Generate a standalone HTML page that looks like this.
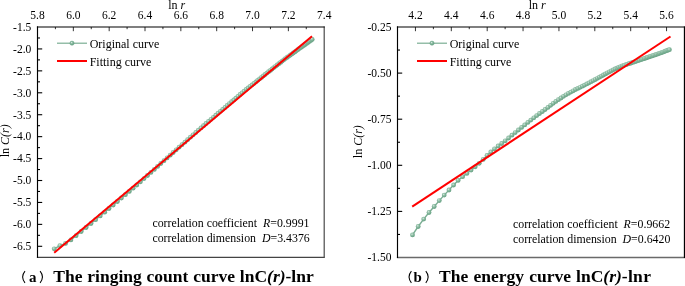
<!DOCTYPE html>
<html><head><meta charset="utf-8"><title>chart</title>
<style>
html,body{margin:0;padding:0;background:#fff;}
body{width:685px;height:286px;overflow:hidden;font-family:"Liberation Serif",serif;}
svg{display:block;will-change:transform;font-family:"Liberation Serif",serif;}
</style></head><body>
<svg width="685" height="286" viewBox="0 0 685 286">
<defs>
<radialGradient id="mk" cx="0.4" cy="0.35" r="0.65">
<stop offset="0" stop-color="#dcece4"/><stop offset="0.3" stop-color="#9cc6b0"/><stop offset="0.6" stop-color="#7cb195"/><stop offset="1" stop-color="#67a184"/>
</radialGradient>
</defs>
<rect width="685" height="286" fill="#fff"/>
<path d="M54.2,248.8 L59.9,245.6 L65.5,243.4 L70.9,239.9 L76.1,235.7 L81.2,231.5 L86.1,227.5 L91.0,223.5 L95.6,219.7 L100.2,215.9 L104.7,212.2 L109.0,208.5 L113.2,205.0 L117.4,201.5 L121.4,198.0 L125.4,194.7 L129.3,191.4 L133.1,188.2 L136.8,185.0 L140.4,181.8 L144.0,178.6 L147.5,175.5 L150.9,172.4 L154.3,169.4 L157.6,166.4 L160.8,163.5 L164.0,160.7 L167.1,157.9 L170.2,155.2 L173.2,152.5 L176.2,149.8 L179.1,147.2 L182.0,144.7 L184.9,142.2 L187.6,139.7 L190.4,137.2 L193.1,134.8 L195.8,132.5 L198.4,130.1 L201.0,127.9 L203.5,125.7 L206.0,123.5 L208.5,121.4 L211.0,119.3 L213.4,117.3 L215.8,115.2 L218.1,113.2 L220.4,111.3 L222.7,109.3 L225.0,107.4 L227.2,105.5 L229.4,103.6 L231.6,101.7 L233.8,99.9 L235.9,98.1 L238.0,96.3 L240.1,94.5 L242.1,92.8 L244.1,91.1 L246.2,89.4 L248.1,87.8 L250.1,86.3 L252.0,84.8 L254.0,83.3 L255.9,81.8 L257.7,80.3 L259.6,78.8 L261.5,77.4 L263.3,75.9 L265.1,74.5 L266.9,73.1 L268.6,71.7 L270.4,70.4 L272.1,69.0 L273.8,67.6 L275.5,66.3 L277.2,65.0 L278.9,63.7 L280.6,62.4 L282.2,61.1 L283.8,59.8 L285.4,58.6 L287.0,57.4 L288.6,56.3 L290.2,55.2 L291.7,54.1 L293.3,53.0 L294.8,51.9 L296.3,50.8 L297.8,49.7 L299.3,48.6 L300.8,47.6 L302.3,46.5 L303.7,45.5 L305.2,44.5 L306.6,43.4 L308.0,42.4 L309.4,41.4 L310.8,40.4 L312.2,39.4" fill="none" stroke="#7aae93" stroke-width="1.4"/>
<circle cx="54.2" cy="248.8" r="2.4" fill="url(#mk)"/>
<circle cx="59.9" cy="245.6" r="2.4" fill="url(#mk)"/>
<circle cx="65.5" cy="243.4" r="2.4" fill="url(#mk)"/>
<circle cx="70.9" cy="239.9" r="2.4" fill="url(#mk)"/>
<circle cx="76.1" cy="235.7" r="2.4" fill="url(#mk)"/>
<circle cx="81.2" cy="231.5" r="2.4" fill="url(#mk)"/>
<circle cx="86.1" cy="227.5" r="2.4" fill="url(#mk)"/>
<circle cx="91.0" cy="223.5" r="2.4" fill="url(#mk)"/>
<circle cx="95.6" cy="219.7" r="2.4" fill="url(#mk)"/>
<circle cx="100.2" cy="215.9" r="2.4" fill="url(#mk)"/>
<circle cx="104.7" cy="212.2" r="2.4" fill="url(#mk)"/>
<circle cx="109.0" cy="208.5" r="2.4" fill="url(#mk)"/>
<circle cx="113.2" cy="205.0" r="2.4" fill="url(#mk)"/>
<circle cx="117.4" cy="201.5" r="2.4" fill="url(#mk)"/>
<circle cx="121.4" cy="198.0" r="2.4" fill="url(#mk)"/>
<circle cx="125.4" cy="194.7" r="2.4" fill="url(#mk)"/>
<circle cx="129.3" cy="191.4" r="2.4" fill="url(#mk)"/>
<circle cx="133.1" cy="188.2" r="2.4" fill="url(#mk)"/>
<circle cx="136.8" cy="185.0" r="2.4" fill="url(#mk)"/>
<circle cx="140.4" cy="181.8" r="2.4" fill="url(#mk)"/>
<circle cx="144.0" cy="178.6" r="2.4" fill="url(#mk)"/>
<circle cx="147.5" cy="175.5" r="2.4" fill="url(#mk)"/>
<circle cx="150.9" cy="172.4" r="2.4" fill="url(#mk)"/>
<circle cx="154.3" cy="169.4" r="2.4" fill="url(#mk)"/>
<circle cx="157.6" cy="166.4" r="2.4" fill="url(#mk)"/>
<circle cx="160.8" cy="163.5" r="2.4" fill="url(#mk)"/>
<circle cx="164.0" cy="160.7" r="2.4" fill="url(#mk)"/>
<circle cx="167.1" cy="157.9" r="2.4" fill="url(#mk)"/>
<circle cx="170.2" cy="155.2" r="2.4" fill="url(#mk)"/>
<circle cx="173.2" cy="152.5" r="2.4" fill="url(#mk)"/>
<circle cx="176.2" cy="149.8" r="2.4" fill="url(#mk)"/>
<circle cx="179.1" cy="147.2" r="2.4" fill="url(#mk)"/>
<circle cx="182.0" cy="144.7" r="2.4" fill="url(#mk)"/>
<circle cx="184.9" cy="142.2" r="2.4" fill="url(#mk)"/>
<circle cx="187.6" cy="139.7" r="2.4" fill="url(#mk)"/>
<circle cx="190.4" cy="137.2" r="2.4" fill="url(#mk)"/>
<circle cx="193.1" cy="134.8" r="2.4" fill="url(#mk)"/>
<circle cx="195.8" cy="132.5" r="2.4" fill="url(#mk)"/>
<circle cx="198.4" cy="130.1" r="2.4" fill="url(#mk)"/>
<circle cx="201.0" cy="127.9" r="2.4" fill="url(#mk)"/>
<circle cx="203.5" cy="125.7" r="2.4" fill="url(#mk)"/>
<circle cx="206.0" cy="123.5" r="2.4" fill="url(#mk)"/>
<circle cx="208.5" cy="121.4" r="2.4" fill="url(#mk)"/>
<circle cx="211.0" cy="119.3" r="2.4" fill="url(#mk)"/>
<circle cx="213.4" cy="117.3" r="2.4" fill="url(#mk)"/>
<circle cx="215.8" cy="115.2" r="2.4" fill="url(#mk)"/>
<circle cx="218.1" cy="113.2" r="2.4" fill="url(#mk)"/>
<circle cx="220.4" cy="111.3" r="2.4" fill="url(#mk)"/>
<circle cx="222.7" cy="109.3" r="2.4" fill="url(#mk)"/>
<circle cx="225.0" cy="107.4" r="2.4" fill="url(#mk)"/>
<circle cx="227.2" cy="105.5" r="2.4" fill="url(#mk)"/>
<circle cx="229.4" cy="103.6" r="2.4" fill="url(#mk)"/>
<circle cx="231.6" cy="101.7" r="2.4" fill="url(#mk)"/>
<circle cx="233.8" cy="99.9" r="2.4" fill="url(#mk)"/>
<circle cx="235.9" cy="98.1" r="2.4" fill="url(#mk)"/>
<circle cx="238.0" cy="96.3" r="2.4" fill="url(#mk)"/>
<circle cx="240.1" cy="94.5" r="2.4" fill="url(#mk)"/>
<circle cx="242.1" cy="92.8" r="2.4" fill="url(#mk)"/>
<circle cx="244.1" cy="91.1" r="2.4" fill="url(#mk)"/>
<circle cx="246.2" cy="89.4" r="2.4" fill="url(#mk)"/>
<circle cx="248.1" cy="87.8" r="2.4" fill="url(#mk)"/>
<circle cx="250.1" cy="86.3" r="2.4" fill="url(#mk)"/>
<circle cx="252.0" cy="84.8" r="2.4" fill="url(#mk)"/>
<circle cx="254.0" cy="83.3" r="2.4" fill="url(#mk)"/>
<circle cx="255.9" cy="81.8" r="2.4" fill="url(#mk)"/>
<circle cx="257.7" cy="80.3" r="2.4" fill="url(#mk)"/>
<circle cx="259.6" cy="78.8" r="2.4" fill="url(#mk)"/>
<circle cx="261.5" cy="77.4" r="2.4" fill="url(#mk)"/>
<circle cx="263.3" cy="75.9" r="2.4" fill="url(#mk)"/>
<circle cx="265.1" cy="74.5" r="2.4" fill="url(#mk)"/>
<circle cx="266.9" cy="73.1" r="2.4" fill="url(#mk)"/>
<circle cx="268.6" cy="71.7" r="2.4" fill="url(#mk)"/>
<circle cx="270.4" cy="70.4" r="2.4" fill="url(#mk)"/>
<circle cx="272.1" cy="69.0" r="2.4" fill="url(#mk)"/>
<circle cx="273.8" cy="67.6" r="2.4" fill="url(#mk)"/>
<circle cx="275.5" cy="66.3" r="2.4" fill="url(#mk)"/>
<circle cx="277.2" cy="65.0" r="2.4" fill="url(#mk)"/>
<circle cx="278.9" cy="63.7" r="2.4" fill="url(#mk)"/>
<circle cx="280.6" cy="62.4" r="2.4" fill="url(#mk)"/>
<circle cx="282.2" cy="61.1" r="2.4" fill="url(#mk)"/>
<circle cx="283.8" cy="59.8" r="2.4" fill="url(#mk)"/>
<circle cx="285.4" cy="58.6" r="2.4" fill="url(#mk)"/>
<circle cx="287.0" cy="57.4" r="2.4" fill="url(#mk)"/>
<circle cx="288.6" cy="56.3" r="2.4" fill="url(#mk)"/>
<circle cx="290.2" cy="55.2" r="2.4" fill="url(#mk)"/>
<circle cx="291.7" cy="54.1" r="2.4" fill="url(#mk)"/>
<circle cx="293.3" cy="53.0" r="2.4" fill="url(#mk)"/>
<circle cx="294.8" cy="51.9" r="2.4" fill="url(#mk)"/>
<circle cx="296.3" cy="50.8" r="2.4" fill="url(#mk)"/>
<circle cx="297.8" cy="49.7" r="2.4" fill="url(#mk)"/>
<circle cx="299.3" cy="48.6" r="2.4" fill="url(#mk)"/>
<circle cx="300.8" cy="47.6" r="2.4" fill="url(#mk)"/>
<circle cx="302.3" cy="46.5" r="2.4" fill="url(#mk)"/>
<circle cx="303.7" cy="45.5" r="2.4" fill="url(#mk)"/>
<circle cx="305.2" cy="44.5" r="2.4" fill="url(#mk)"/>
<circle cx="306.6" cy="43.4" r="2.4" fill="url(#mk)"/>
<circle cx="308.0" cy="42.4" r="2.4" fill="url(#mk)"/>
<circle cx="309.4" cy="41.4" r="2.4" fill="url(#mk)"/>
<circle cx="310.8" cy="40.4" r="2.4" fill="url(#mk)"/>
<circle cx="312.2" cy="39.4" r="2.4" fill="url(#mk)"/>
<line x1="54.2" y1="252.8" x2="312.0" y2="36.2" stroke="#f00" stroke-width="2"/>
<line x1="36.9" y1="257.3" x2="324.7" y2="257.3" stroke="#444" stroke-width="1.15"/>
<line x1="324.2" y1="26.4" x2="324.2" y2="257.8" stroke="#4a4a4a" stroke-width="1.2"/>
<line x1="37.5" y1="26.35" x2="37.5" y2="257.8" stroke="#000" stroke-width="1.15"/>
<line x1="36.93" y1="27.0" x2="324.7" y2="27.0" stroke="#000" stroke-width="1.15"/>
<text x="37.50" y="19.2" text-anchor="middle" font-size="11.5">5.8</text>
<line x1="55.42" y1="27.0" x2="55.42" y2="29.2" stroke="#000" stroke-width="0.8"/>
<line x1="73.34" y1="27.0" x2="73.34" y2="31.2" stroke="#000" stroke-width="0.8"/>
<text x="73.34" y="19.2" text-anchor="middle" font-size="11.5">6.0</text>
<line x1="91.26" y1="27.0" x2="91.26" y2="29.2" stroke="#000" stroke-width="0.8"/>
<line x1="109.18" y1="27.0" x2="109.18" y2="31.2" stroke="#000" stroke-width="0.8"/>
<text x="109.18" y="19.2" text-anchor="middle" font-size="11.5">6.2</text>
<line x1="127.09" y1="27.0" x2="127.09" y2="29.2" stroke="#000" stroke-width="0.8"/>
<line x1="145.01" y1="27.0" x2="145.01" y2="31.2" stroke="#000" stroke-width="0.8"/>
<text x="145.01" y="19.2" text-anchor="middle" font-size="11.5">6.4</text>
<line x1="162.93" y1="27.0" x2="162.93" y2="29.2" stroke="#000" stroke-width="0.8"/>
<line x1="180.85" y1="27.0" x2="180.85" y2="31.2" stroke="#000" stroke-width="0.8"/>
<text x="180.85" y="19.2" text-anchor="middle" font-size="11.5">6.6</text>
<line x1="198.77" y1="27.0" x2="198.77" y2="29.2" stroke="#000" stroke-width="0.8"/>
<line x1="216.69" y1="27.0" x2="216.69" y2="31.2" stroke="#000" stroke-width="0.8"/>
<text x="216.69" y="19.2" text-anchor="middle" font-size="11.5">6.8</text>
<line x1="234.61" y1="27.0" x2="234.61" y2="29.2" stroke="#000" stroke-width="0.8"/>
<line x1="252.52" y1="27.0" x2="252.52" y2="31.2" stroke="#000" stroke-width="0.8"/>
<text x="252.52" y="19.2" text-anchor="middle" font-size="11.5">7.0</text>
<line x1="270.44" y1="27.0" x2="270.44" y2="29.2" stroke="#000" stroke-width="0.8"/>
<line x1="288.36" y1="27.0" x2="288.36" y2="31.2" stroke="#000" stroke-width="0.8"/>
<text x="288.36" y="19.2" text-anchor="middle" font-size="11.5">7.2</text>
<line x1="306.28" y1="27.0" x2="306.28" y2="29.2" stroke="#000" stroke-width="0.8"/>
<text x="324.20" y="19.2" text-anchor="middle" font-size="11.5">7.4</text>
<text x="31.3" y="30.80" text-anchor="end" font-size="11.5">-1.5</text>
<line x1="37.5" y1="37.97" x2="40.0" y2="37.97" stroke="#000" stroke-width="1.1"/>
<line x1="37.5" y1="48.93" x2="42.2" y2="48.93" stroke="#000" stroke-width="1.1"/>
<text x="31.3" y="52.73" text-anchor="end" font-size="11.5">-2.0</text>
<line x1="37.5" y1="59.89" x2="40.0" y2="59.89" stroke="#000" stroke-width="1.1"/>
<line x1="37.5" y1="70.86" x2="42.2" y2="70.86" stroke="#000" stroke-width="1.1"/>
<text x="31.3" y="74.66" text-anchor="end" font-size="11.5">-2.5</text>
<line x1="37.5" y1="81.83" x2="40.0" y2="81.83" stroke="#000" stroke-width="1.1"/>
<line x1="37.5" y1="92.79" x2="42.2" y2="92.79" stroke="#000" stroke-width="1.1"/>
<text x="31.3" y="96.59" text-anchor="end" font-size="11.5">-3.0</text>
<line x1="37.5" y1="103.75" x2="40.0" y2="103.75" stroke="#000" stroke-width="1.1"/>
<line x1="37.5" y1="114.72" x2="42.2" y2="114.72" stroke="#000" stroke-width="1.1"/>
<text x="31.3" y="118.52" text-anchor="end" font-size="11.5">-3.5</text>
<line x1="37.5" y1="125.69" x2="40.0" y2="125.69" stroke="#000" stroke-width="1.1"/>
<line x1="37.5" y1="136.65" x2="42.2" y2="136.65" stroke="#000" stroke-width="1.1"/>
<text x="31.3" y="140.45" text-anchor="end" font-size="11.5">-4.0</text>
<line x1="37.5" y1="147.62" x2="40.0" y2="147.62" stroke="#000" stroke-width="1.1"/>
<line x1="37.5" y1="158.58" x2="42.2" y2="158.58" stroke="#000" stroke-width="1.1"/>
<text x="31.3" y="162.38" text-anchor="end" font-size="11.5">-4.5</text>
<line x1="37.5" y1="169.54" x2="40.0" y2="169.54" stroke="#000" stroke-width="1.1"/>
<line x1="37.5" y1="180.51" x2="42.2" y2="180.51" stroke="#000" stroke-width="1.1"/>
<text x="31.3" y="184.31" text-anchor="end" font-size="11.5">-5.0</text>
<line x1="37.5" y1="191.47" x2="40.0" y2="191.47" stroke="#000" stroke-width="1.1"/>
<line x1="37.5" y1="202.44" x2="42.2" y2="202.44" stroke="#000" stroke-width="1.1"/>
<text x="31.3" y="206.24" text-anchor="end" font-size="11.5">-5.5</text>
<line x1="37.5" y1="213.41" x2="40.0" y2="213.41" stroke="#000" stroke-width="1.1"/>
<line x1="37.5" y1="224.37" x2="42.2" y2="224.37" stroke="#000" stroke-width="1.1"/>
<text x="31.3" y="228.17" text-anchor="end" font-size="11.5">-6.0</text>
<line x1="37.5" y1="235.34" x2="40.0" y2="235.34" stroke="#000" stroke-width="1.1"/>
<line x1="37.5" y1="246.30" x2="42.2" y2="246.30" stroke="#000" stroke-width="1.1"/>
<text x="31.3" y="250.10" text-anchor="end" font-size="11.5">-6.5</text>
<path d="M412.5,234.9 L418.2,226.5 L423.7,219.1 L429.0,212.5 L434.2,206.5 L439.3,200.6 L444.2,195.1 L449.0,190.0 L453.6,185.0 L458.1,180.4 L462.6,176.7 L466.9,173.4 L471.1,170.1 L475.2,166.8 L479.2,163.3 L483.2,159.4 L487.0,155.5 L490.8,152.0 L494.5,148.8 L498.1,146.0 L501.7,143.5 L505.2,140.8 L508.6,138.0 L511.9,135.2 L515.2,132.6 L518.4,130.0 L521.6,127.4 L524.7,124.9 L527.8,122.4 L530.8,120.1 L533.8,117.8 L536.7,115.6 L539.5,113.5 L542.4,111.5 L545.1,109.5 L547.9,107.4 L550.6,105.3 L553.2,103.3 L555.8,101.4 L558.4,99.7 L561.0,98.0 L563.5,96.3 L565.9,94.8 L568.4,93.4 L570.8,92.1 L573.2,90.8 L575.5,89.5 L577.8,88.4 L580.1,87.3 L582.4,86.2 L584.6,85.1 L586.8,83.9 L589.0,82.8 L591.1,81.7 L593.2,80.6 L595.3,79.5 L597.4,78.3 L599.4,77.2 L601.5,76.1 L603.5,75.0 L605.5,73.9 L607.4,72.8 L609.4,71.8 L611.3,70.8 L613.2,69.8 L615.0,68.9 L616.9,68.1 L618.7,67.3 L620.6,66.6 L622.4,65.9 L624.1,65.3 L625.9,64.7 L627.7,64.1 L629.4,63.5 L631.1,63.0 L632.8,62.4 L634.5,61.8 L636.2,61.3 L637.8,60.7 L639.4,60.2 L641.1,59.6 L642.7,59.1 L644.3,58.5 L645.9,58.0 L647.4,57.5 L649.0,56.9 L650.5,56.4 L652.0,55.9 L653.5,55.4 L655.0,54.9 L656.5,54.4 L658.0,53.8 L659.5,53.3 L660.9,52.8 L662.4,52.3 L663.8,51.8 L665.2,51.2 L666.6,50.7 L668.0,50.2 L669.4,49.7" fill="none" stroke="#7aae93" stroke-width="1.4"/>
<circle cx="412.5" cy="234.9" r="2.4" fill="url(#mk)"/>
<circle cx="418.2" cy="226.5" r="2.4" fill="url(#mk)"/>
<circle cx="423.7" cy="219.1" r="2.4" fill="url(#mk)"/>
<circle cx="429.0" cy="212.5" r="2.4" fill="url(#mk)"/>
<circle cx="434.2" cy="206.5" r="2.4" fill="url(#mk)"/>
<circle cx="439.3" cy="200.6" r="2.4" fill="url(#mk)"/>
<circle cx="444.2" cy="195.1" r="2.4" fill="url(#mk)"/>
<circle cx="449.0" cy="190.0" r="2.4" fill="url(#mk)"/>
<circle cx="453.6" cy="185.0" r="2.4" fill="url(#mk)"/>
<circle cx="458.1" cy="180.4" r="2.4" fill="url(#mk)"/>
<circle cx="462.6" cy="176.7" r="2.4" fill="url(#mk)"/>
<circle cx="466.9" cy="173.4" r="2.4" fill="url(#mk)"/>
<circle cx="471.1" cy="170.1" r="2.4" fill="url(#mk)"/>
<circle cx="475.2" cy="166.8" r="2.4" fill="url(#mk)"/>
<circle cx="479.2" cy="163.3" r="2.4" fill="url(#mk)"/>
<circle cx="483.2" cy="159.4" r="2.4" fill="url(#mk)"/>
<circle cx="487.0" cy="155.5" r="2.4" fill="url(#mk)"/>
<circle cx="490.8" cy="152.0" r="2.4" fill="url(#mk)"/>
<circle cx="494.5" cy="148.8" r="2.4" fill="url(#mk)"/>
<circle cx="498.1" cy="146.0" r="2.4" fill="url(#mk)"/>
<circle cx="501.7" cy="143.5" r="2.4" fill="url(#mk)"/>
<circle cx="505.2" cy="140.8" r="2.4" fill="url(#mk)"/>
<circle cx="508.6" cy="138.0" r="2.4" fill="url(#mk)"/>
<circle cx="511.9" cy="135.2" r="2.4" fill="url(#mk)"/>
<circle cx="515.2" cy="132.6" r="2.4" fill="url(#mk)"/>
<circle cx="518.4" cy="130.0" r="2.4" fill="url(#mk)"/>
<circle cx="521.6" cy="127.4" r="2.4" fill="url(#mk)"/>
<circle cx="524.7" cy="124.9" r="2.4" fill="url(#mk)"/>
<circle cx="527.8" cy="122.4" r="2.4" fill="url(#mk)"/>
<circle cx="530.8" cy="120.1" r="2.4" fill="url(#mk)"/>
<circle cx="533.8" cy="117.8" r="2.4" fill="url(#mk)"/>
<circle cx="536.7" cy="115.6" r="2.4" fill="url(#mk)"/>
<circle cx="539.5" cy="113.5" r="2.4" fill="url(#mk)"/>
<circle cx="542.4" cy="111.5" r="2.4" fill="url(#mk)"/>
<circle cx="545.1" cy="109.5" r="2.4" fill="url(#mk)"/>
<circle cx="547.9" cy="107.4" r="2.4" fill="url(#mk)"/>
<circle cx="550.6" cy="105.3" r="2.4" fill="url(#mk)"/>
<circle cx="553.2" cy="103.3" r="2.4" fill="url(#mk)"/>
<circle cx="555.8" cy="101.4" r="2.4" fill="url(#mk)"/>
<circle cx="558.4" cy="99.7" r="2.4" fill="url(#mk)"/>
<circle cx="561.0" cy="98.0" r="2.4" fill="url(#mk)"/>
<circle cx="563.5" cy="96.3" r="2.4" fill="url(#mk)"/>
<circle cx="565.9" cy="94.8" r="2.4" fill="url(#mk)"/>
<circle cx="568.4" cy="93.4" r="2.4" fill="url(#mk)"/>
<circle cx="570.8" cy="92.1" r="2.4" fill="url(#mk)"/>
<circle cx="573.2" cy="90.8" r="2.4" fill="url(#mk)"/>
<circle cx="575.5" cy="89.5" r="2.4" fill="url(#mk)"/>
<circle cx="577.8" cy="88.4" r="2.4" fill="url(#mk)"/>
<circle cx="580.1" cy="87.3" r="2.4" fill="url(#mk)"/>
<circle cx="582.4" cy="86.2" r="2.4" fill="url(#mk)"/>
<circle cx="584.6" cy="85.1" r="2.4" fill="url(#mk)"/>
<circle cx="586.8" cy="83.9" r="2.4" fill="url(#mk)"/>
<circle cx="589.0" cy="82.8" r="2.4" fill="url(#mk)"/>
<circle cx="591.1" cy="81.7" r="2.4" fill="url(#mk)"/>
<circle cx="593.2" cy="80.6" r="2.4" fill="url(#mk)"/>
<circle cx="595.3" cy="79.5" r="2.4" fill="url(#mk)"/>
<circle cx="597.4" cy="78.3" r="2.4" fill="url(#mk)"/>
<circle cx="599.4" cy="77.2" r="2.4" fill="url(#mk)"/>
<circle cx="601.5" cy="76.1" r="2.4" fill="url(#mk)"/>
<circle cx="603.5" cy="75.0" r="2.4" fill="url(#mk)"/>
<circle cx="605.5" cy="73.9" r="2.4" fill="url(#mk)"/>
<circle cx="607.4" cy="72.8" r="2.4" fill="url(#mk)"/>
<circle cx="609.4" cy="71.8" r="2.4" fill="url(#mk)"/>
<circle cx="611.3" cy="70.8" r="2.4" fill="url(#mk)"/>
<circle cx="613.2" cy="69.8" r="2.4" fill="url(#mk)"/>
<circle cx="615.0" cy="68.9" r="2.4" fill="url(#mk)"/>
<circle cx="616.9" cy="68.1" r="2.4" fill="url(#mk)"/>
<circle cx="618.7" cy="67.3" r="2.4" fill="url(#mk)"/>
<circle cx="620.6" cy="66.6" r="2.4" fill="url(#mk)"/>
<circle cx="622.4" cy="65.9" r="2.4" fill="url(#mk)"/>
<circle cx="624.1" cy="65.3" r="2.4" fill="url(#mk)"/>
<circle cx="625.9" cy="64.7" r="2.4" fill="url(#mk)"/>
<circle cx="627.7" cy="64.1" r="2.4" fill="url(#mk)"/>
<circle cx="629.4" cy="63.5" r="2.4" fill="url(#mk)"/>
<circle cx="631.1" cy="63.0" r="2.4" fill="url(#mk)"/>
<circle cx="632.8" cy="62.4" r="2.4" fill="url(#mk)"/>
<circle cx="634.5" cy="61.8" r="2.4" fill="url(#mk)"/>
<circle cx="636.2" cy="61.3" r="2.4" fill="url(#mk)"/>
<circle cx="637.8" cy="60.7" r="2.4" fill="url(#mk)"/>
<circle cx="639.4" cy="60.2" r="2.4" fill="url(#mk)"/>
<circle cx="641.1" cy="59.6" r="2.4" fill="url(#mk)"/>
<circle cx="642.7" cy="59.1" r="2.4" fill="url(#mk)"/>
<circle cx="644.3" cy="58.5" r="2.4" fill="url(#mk)"/>
<circle cx="645.9" cy="58.0" r="2.4" fill="url(#mk)"/>
<circle cx="647.4" cy="57.5" r="2.4" fill="url(#mk)"/>
<circle cx="649.0" cy="56.9" r="2.4" fill="url(#mk)"/>
<circle cx="650.5" cy="56.4" r="2.4" fill="url(#mk)"/>
<circle cx="652.0" cy="55.9" r="2.4" fill="url(#mk)"/>
<circle cx="653.5" cy="55.4" r="2.4" fill="url(#mk)"/>
<circle cx="655.0" cy="54.9" r="2.4" fill="url(#mk)"/>
<circle cx="656.5" cy="54.4" r="2.4" fill="url(#mk)"/>
<circle cx="658.0" cy="53.8" r="2.4" fill="url(#mk)"/>
<circle cx="659.5" cy="53.3" r="2.4" fill="url(#mk)"/>
<circle cx="660.9" cy="52.8" r="2.4" fill="url(#mk)"/>
<circle cx="662.4" cy="52.3" r="2.4" fill="url(#mk)"/>
<circle cx="663.8" cy="51.8" r="2.4" fill="url(#mk)"/>
<circle cx="665.2" cy="51.2" r="2.4" fill="url(#mk)"/>
<circle cx="666.6" cy="50.7" r="2.4" fill="url(#mk)"/>
<circle cx="668.0" cy="50.2" r="2.4" fill="url(#mk)"/>
<circle cx="669.4" cy="49.7" r="2.4" fill="url(#mk)"/>
<line x1="412.2" y1="206.6" x2="670.5" y2="36.5" stroke="#f00" stroke-width="2"/>
<line x1="396.9" y1="257.5" x2="685.0" y2="257.5" stroke="#6a6a6a" stroke-width="1.4"/>
<line x1="684.5" y1="26.4" x2="684.5" y2="258.0" stroke="#000" stroke-width="1.3"/>
<line x1="397.5" y1="26.35" x2="397.5" y2="258.0" stroke="#000" stroke-width="1.15"/>
<line x1="396.93" y1="27.0" x2="685.0" y2="27.0" stroke="#000" stroke-width="1.15"/>
<line x1="415.44" y1="27.0" x2="415.44" y2="31.2" stroke="#000" stroke-width="0.8"/>
<text x="415.44" y="19.2" text-anchor="middle" font-size="11.5">4.2</text>
<line x1="433.38" y1="27.0" x2="433.38" y2="29.2" stroke="#000" stroke-width="0.8"/>
<line x1="451.31" y1="27.0" x2="451.31" y2="31.2" stroke="#000" stroke-width="0.8"/>
<text x="451.31" y="19.2" text-anchor="middle" font-size="11.5">4.4</text>
<line x1="469.25" y1="27.0" x2="469.25" y2="29.2" stroke="#000" stroke-width="0.8"/>
<line x1="487.19" y1="27.0" x2="487.19" y2="31.2" stroke="#000" stroke-width="0.8"/>
<text x="487.19" y="19.2" text-anchor="middle" font-size="11.5">4.6</text>
<line x1="505.13" y1="27.0" x2="505.13" y2="29.2" stroke="#000" stroke-width="0.8"/>
<line x1="523.06" y1="27.0" x2="523.06" y2="31.2" stroke="#000" stroke-width="0.8"/>
<text x="523.06" y="19.2" text-anchor="middle" font-size="11.5">4.8</text>
<line x1="541.00" y1="27.0" x2="541.00" y2="29.2" stroke="#000" stroke-width="0.8"/>
<line x1="558.94" y1="27.0" x2="558.94" y2="31.2" stroke="#000" stroke-width="0.8"/>
<text x="558.94" y="19.2" text-anchor="middle" font-size="11.5">5.0</text>
<line x1="576.88" y1="27.0" x2="576.88" y2="29.2" stroke="#000" stroke-width="0.8"/>
<line x1="594.81" y1="27.0" x2="594.81" y2="31.2" stroke="#000" stroke-width="0.8"/>
<text x="594.81" y="19.2" text-anchor="middle" font-size="11.5">5.2</text>
<line x1="612.75" y1="27.0" x2="612.75" y2="29.2" stroke="#000" stroke-width="0.8"/>
<line x1="630.69" y1="27.0" x2="630.69" y2="31.2" stroke="#000" stroke-width="0.8"/>
<text x="630.69" y="19.2" text-anchor="middle" font-size="11.5">5.4</text>
<line x1="648.62" y1="27.0" x2="648.62" y2="29.2" stroke="#000" stroke-width="0.8"/>
<line x1="666.56" y1="27.0" x2="666.56" y2="31.2" stroke="#000" stroke-width="0.8"/>
<text x="666.56" y="19.2" text-anchor="middle" font-size="11.5">5.6</text>
<text x="391.5" y="30.80" text-anchor="end" font-size="11.5">-0.25</text>
<line x1="397.5" y1="50.05" x2="400.0" y2="50.05" stroke="#000" stroke-width="1.1"/>
<line x1="397.5" y1="73.10" x2="402.2" y2="73.10" stroke="#000" stroke-width="1.1"/>
<text x="391.5" y="76.90" text-anchor="end" font-size="11.5">-0.50</text>
<line x1="397.5" y1="96.15" x2="400.0" y2="96.15" stroke="#000" stroke-width="1.1"/>
<line x1="397.5" y1="119.20" x2="402.2" y2="119.20" stroke="#000" stroke-width="1.1"/>
<text x="391.5" y="123.00" text-anchor="end" font-size="11.5">-0.75</text>
<line x1="397.5" y1="142.25" x2="400.0" y2="142.25" stroke="#000" stroke-width="1.1"/>
<line x1="397.5" y1="165.30" x2="402.2" y2="165.30" stroke="#000" stroke-width="1.1"/>
<text x="391.5" y="169.10" text-anchor="end" font-size="11.5">-1.00</text>
<line x1="397.5" y1="188.35" x2="400.0" y2="188.35" stroke="#000" stroke-width="1.1"/>
<line x1="397.5" y1="211.40" x2="402.2" y2="211.40" stroke="#000" stroke-width="1.1"/>
<text x="391.5" y="215.20" text-anchor="end" font-size="11.5">-1.25</text>
<line x1="397.5" y1="234.45" x2="400.0" y2="234.45" stroke="#000" stroke-width="1.1"/>
<text x="391.5" y="261.30" text-anchor="end" font-size="11.5">-1.50</text>
<line x1="57" y1="43.2" x2="87" y2="43.2" stroke="#7aae93" stroke-width="1.2"/>
<circle cx="72" cy="43.2" r="2.1" fill="url(#mk)" stroke="#67a184" stroke-width="0.5"/>
<text x="89.7" y="48.2" font-size="12">Original curve</text>
<line x1="57" y1="61.0" x2="87" y2="61.0" stroke="#f00" stroke-width="2"/>
<text x="89.7" y="66.0" font-size="12">Fitting curve</text>
<line x1="417" y1="43.2" x2="447" y2="43.2" stroke="#7aae93" stroke-width="1.2"/>
<circle cx="432" cy="43.2" r="2.1" fill="url(#mk)" stroke="#67a184" stroke-width="0.5"/>
<text x="449.7" y="48.2" font-size="12">Original curve</text>
<line x1="417" y1="61.0" x2="447" y2="61.0" stroke="#f00" stroke-width="2"/>
<text x="449.7" y="66.0" font-size="12">Fitting curve</text>
<text x="152.4" y="227.4" font-size="11.85" xml:space="preserve">correlation coefficient  <tspan font-style="italic">R</tspan>=0.9991</text>
<text x="152.4" y="242.0" font-size="11.85" xml:space="preserve">correlation dimension  <tspan font-style="italic">D</tspan>=3.4376</text>
<text x="513.0" y="228.0" font-size="11.85" xml:space="preserve">correlation coefficient  <tspan font-style="italic">R</tspan>=0.9662</text>
<text x="513.0" y="242.6" font-size="11.85" xml:space="preserve">correlation dimension  <tspan font-style="italic">D</tspan>=0.6420</text>
<text x="176.7" y="8.6" text-anchor="middle" font-size="12">ln <tspan font-style="italic">r</tspan></text>
<text transform="translate(8.9,140.8) rotate(-90)" text-anchor="middle" font-size="12">ln <tspan font-style="italic">C(r)</tspan></text>
<text x="537.2" y="8.6" text-anchor="middle" font-size="12">ln <tspan font-style="italic">r</tspan></text>
<text transform="translate(361.6,141.7) rotate(-90)" text-anchor="middle" font-size="12">ln <tspan font-style="italic">C(r)</tspan></text>
<path d="M25.0,271.2 Q20.3,277 25.0,282.8" fill="none" stroke="#000" stroke-width="1.05"/>
<text x="29.0" y="282.0" font-size="15" font-weight="bold">a</text>
<path d="M40.1,271.2 Q44.800000000000004,277 40.1,282.8" fill="none" stroke="#000" stroke-width="1.05"/>
<text x="53.3" y="282.0" font-size="17.5" font-weight="bold" word-spacing="0.45" xml:space="preserve">The ringing count curve lnC<tspan font-style="italic">(r)</tspan>-lnr</text>
<path d="M411.40000000000003,271.2 Q406.70000000000005,277 411.40000000000003,282.8" fill="none" stroke="#000" stroke-width="1.05"/>
<text x="413.6" y="282.0" font-size="15" font-weight="bold">b</text>
<path d="M425.8,271.2 Q430.5,277 425.8,282.8" fill="none" stroke="#000" stroke-width="1.05"/>
<text x="439.1" y="282.0" font-size="17.5" font-weight="bold" word-spacing="0.8" xml:space="preserve">The energy curve lnC<tspan font-style="italic">(r)</tspan><tspan letter-spacing="0.3">-lnr</tspan></text>
</svg></body></html>
